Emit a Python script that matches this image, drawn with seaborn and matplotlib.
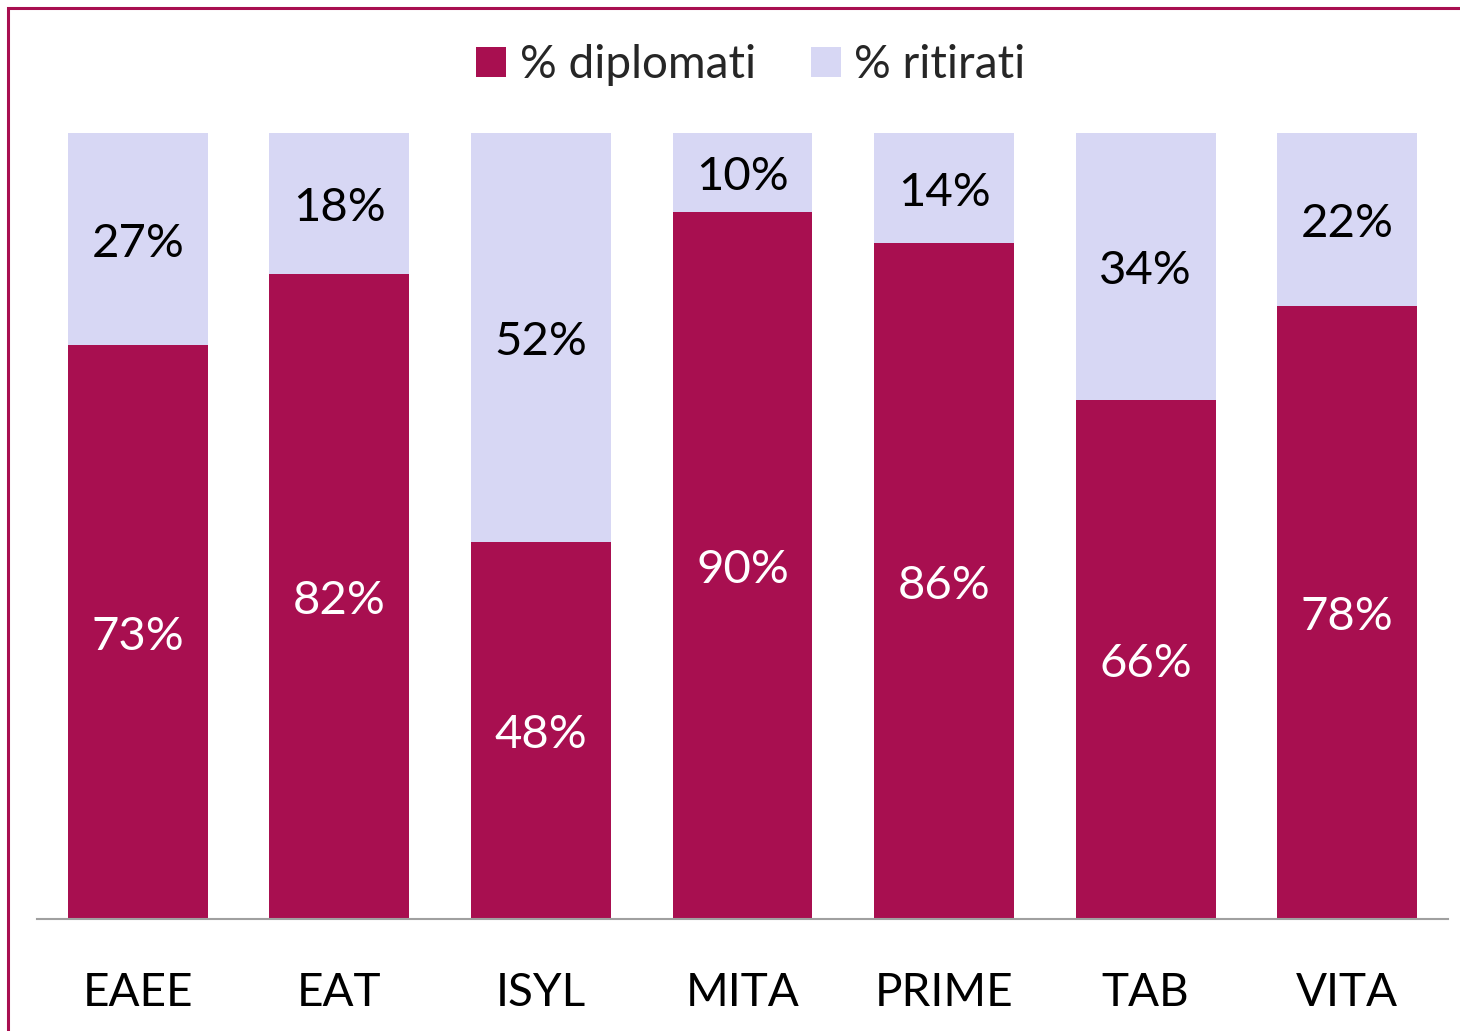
import matplotlib
matplotlib.use("Agg")
import matplotlib.pyplot as plt
import seaborn as sns
import pandas as pd
from matplotlib.patches import Rectangle, Patch

categories = ["EAEE", "EAT", "ISYL", "MITA", "PRIME", "TAB", "VITA"]
diplomati = [73, 82, 48, 90, 86, 66, 78]
ritirati = [27, 18, 52, 10, 14, 34, 22]

C_DIP = "#A80F50"
C_RIT = "#D7D7F4"

sns.set_theme(style="white")
plt.rcParams['font.family'] = ['Lato', 'DejaVu Sans']

df = pd.DataFrame({"cat": categories, "dip": diplomati, "rit": ritirati})
df["tot"] = df["dip"] + df["rit"]

fig = plt.figure(figsize=(14.6, 10.31), dpi=100)
W, H = 1460, 1031
ax = fig.add_axes([37 / W, (H - 919) / H, (1448 - 37) / W, (919 - 133) / H])

sns.barplot(data=df, x="cat", y="tot", color=C_RIT, width=0.694, ax=ax,
            saturation=1, linewidth=0)
sns.barplot(data=df, x="cat", y="dip", color=C_DIP, width=0.694, ax=ax,
            saturation=1, linewidth=0)

ax.set_ylim(0, 100)
ax.set_xlim(-0.5, len(categories) - 0.5)
ax.set_xlabel("")
ax.set_ylabel("")
ax.set_yticks([])
for s in ["top", "right", "left"]:
    ax.spines[s].set_visible(False)
ax.spines["bottom"].set_color("#A0A0A0")
ax.spines["bottom"].set_linewidth(1.5)
ax.tick_params(axis="x", length=0, labelsize=33, pad=38, colors="black")
for lbl in ax.get_xticklabels():
    lbl.set_x(lbl.get_position()[0])

for i, (d, r) in enumerate(zip(diplomati, ritirati)):
    ax.text(i, d / 2 - 0.6, f"{d}%", ha="center", va="center", color="white", fontsize=34)
    ax.text(i, d + r / 2 - 0.6, f"{r}%", ha="center", va="center", color="black", fontsize=34)

handles = [Patch(facecolor=C_DIP, edgecolor="none", label="% diplomati"),
           Patch(facecolor=C_RIT, edgecolor="none", label="% ritirati")]
fig.legend(handles=handles, loc="center", bbox_to_anchor=(751 / W, 1 - 65 / H),
           ncol=2, frameon=False, fontsize=33, handlelength=0.65, handleheight=0.65,
           handletextpad=0.3, columnspacing=1.2)

fig.patches.append(Rectangle((8 / W, -0.1), 1.2, 1 - 8 / H + 0.1, transform=fig.transFigure,
                             fill=False, edgecolor=C_DIP, linewidth=2.2, zorder=10))

fig.savefig("out.png", dpi=100)
